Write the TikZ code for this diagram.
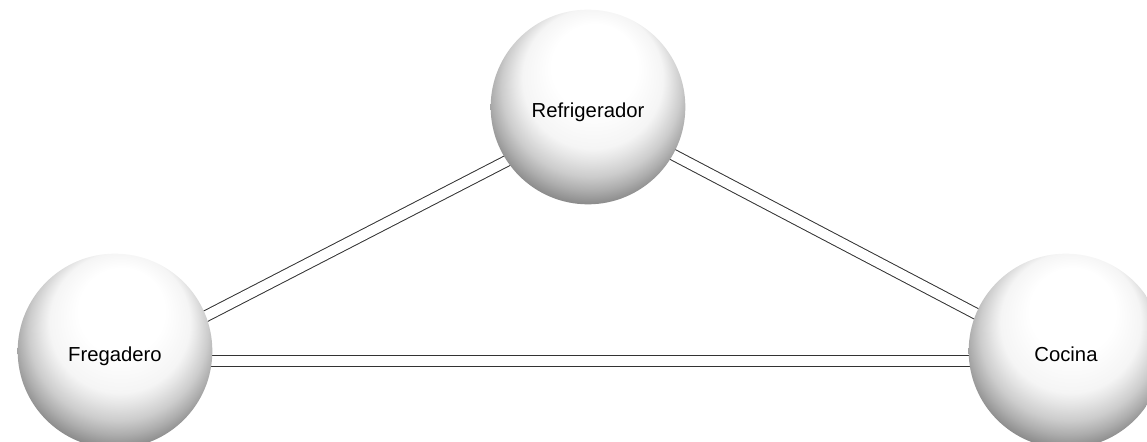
\documentclass[tikz,border=0pt]{standalone}
\usepackage{fontspec}
\setmainfont{Liberation Sans}
\usetikzlibrary{calc,backgrounds}
\tikzset{%
  ball/.style={circle,minimum size=146pt,inner sep=0pt,
    text height=15.5pt,text depth=0pt,
    shade,shading=sphere,font=\fontsize{15.2}{18}\selectfont},
  link/.style={draw=black!80,line width=0.75pt,
    double=white,double distance=7.5pt}}
% soft grey sphere, lit from above the middle
\pgfdeclareradialshading{sphere}{\pgfpoint{2.5bp}{15bp}}{%
  color(0bp)=(white); color(11bp)=(white);
  color(18bp)=(black!4); color(20bp)=(black!10);
  color(23bp)=(black!20); color(25.5bp)=(black!32);
  color(28bp)=(black!46); color(35bp)=(black!55)}

\begin{document}
\begin{tikzpicture}[x=0.75pt,y=-0.75pt]
\useasboundingbox (0,0) rectangle (1147,442);
\foreach \n/\x/\y/\t in {re/588/107/Refrigerador,
    fr/115/351/Fregadero,co/1066/351/Cocina}
  \node[ball] (\n) at (\x,\y) {\t};
\begin{scope}[on background layer]
\foreach \a/\sa/\b/\sb in {fr/12/re/12,re/3/co/10,fr/9.5/co/9.5}
  \draw[link] ($(\a)+(0,\sa)$) -- ($(\b)+(0,\sb)$);
\end{scope}
\end{tikzpicture}
\end{document}
